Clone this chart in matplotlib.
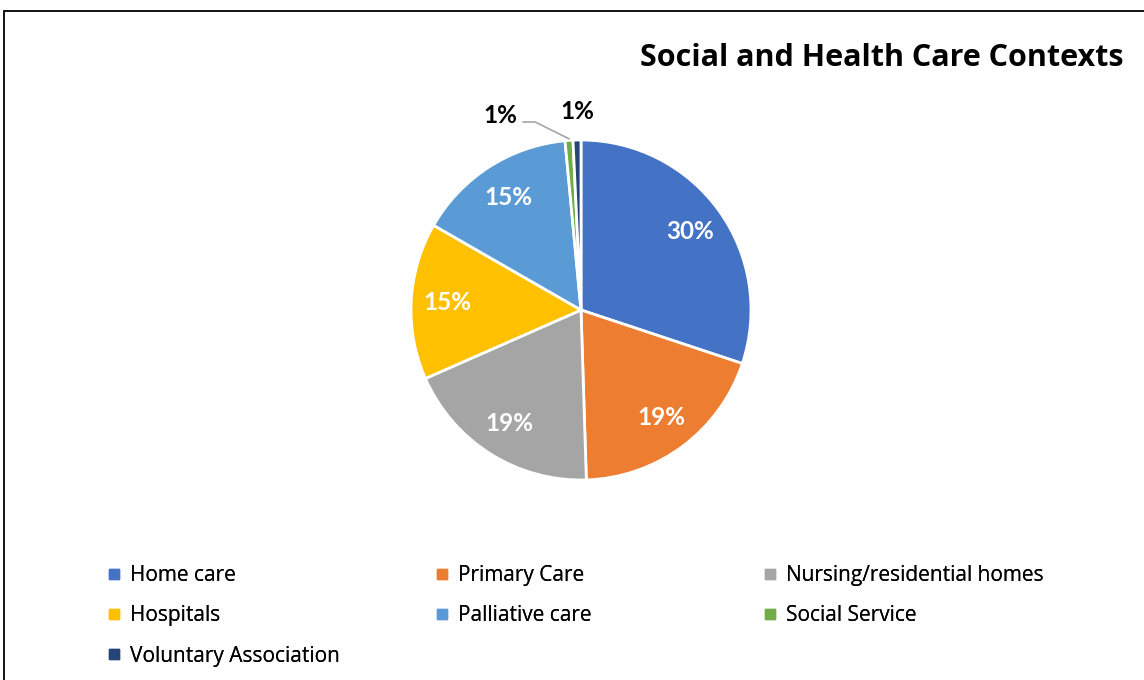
import numpy as np
import matplotlib
matplotlib.use("Agg")
import matplotlib.pyplot as plt
from matplotlib.patches import Rectangle
from matplotlib.lines import Line2D

categories = ["Home care", "Primary Care", "Nursing/residential homes", "Hospitals",
              "Palliative care", "Social Service", "Voluntary Association"]
values = [30.1, 19.4, 18.9, 14.9, 15.2, 0.75, 0.75]
colors = ["#4472C4", "#ED7D31", "#A5A5A5", "#FFC000", "#5B9BD5", "#70AD47", "#264478"]
title = "Social and Health Care Contexts"

W, H = 1144, 680
fig = plt.figure(figsize=(W / 100, H / 100), dpi=100)
fig.patch.set_facecolor("white")

# border
fig.patches.append(Rectangle((4 / W, -0.05), 1.2, (H - 11) / H + 0.05, transform=fig.transFigure,
                             fill=False, edgecolor="black", linewidth=1.3))

cx, cy, r = 581, 310, 170
ax = fig.add_axes([(cx - r) / W, (H - cy - r) / H, 2 * r / W, 2 * r / H])
wedges, texts, autotexts = ax.pie(values, colors=colors, startangle=90, counterclock=False,
                                  autopct="%.0f%%", pctdistance=0.79,
                                  wedgeprops=dict(edgecolor="white", linewidth=2.0),
                                  textprops=dict(color="white", fontsize=17.5, fontweight="bold",
                                                 family="Lato"))
ax.set_xlim(-1, 1)
ax.set_ylim(-1, 1)
ax.set_aspect("equal")
ax.axis("off")
for w in wedges:
    w.set_clip_on(False)

# small slices: move labels outside
total = sum(values)
cum = np.cumsum([0] + values)
for i in (5, 6):
    mid = (cum[i] + cum[i + 1]) / 2 / total
    ang = np.deg2rad(90 - 360 * mid)
    px, py = np.cos(ang), np.sin(ang)
    t = autotexts[i]
    t.set_color("black")
    t.set_clip_on(False)
    if i == 5:
        t.set_position((-0.476, 1.147))
        ax.add_line(Line2D([-0.34, -0.27, px * 1.01], [1.106, 1.106, py * 1.01],
                           color="#A5A5A5", linewidth=1.2, clip_on=False))
    else:
        t.set_position((px, 1.165))

fig.text(1123 / W, (H - 58) / H, title, ha="right", va="center", fontsize=22,
         fontweight="bold", family="Open Sans")

# legends: three columns laid out row-wise
cols = [[0, 3, 6], [1, 4], [2, 5]]
xs = [108, 436, 764]
for xcol, idxs in zip(xs, cols):
    handles = [Line2D([], [], marker="s", linestyle="none", markersize=7,
                      markerfacecolor=colors[i], markeredgecolor=colors[i]) for i in idxs]
    leg = fig.legend(handles, [categories[i] for i in idxs], loc="upper left",
                     bbox_to_anchor=(xcol / W, (H - 565) / H), frameon=False,
                     prop=dict(family="Open Sans", size=15), handlelength=0.55,
                     handletextpad=0.5, labelspacing=0.93, borderaxespad=0, borderpad=0)
    fig.add_artist(leg)

fig.savefig("out.png", dpi=100, facecolor="white")
